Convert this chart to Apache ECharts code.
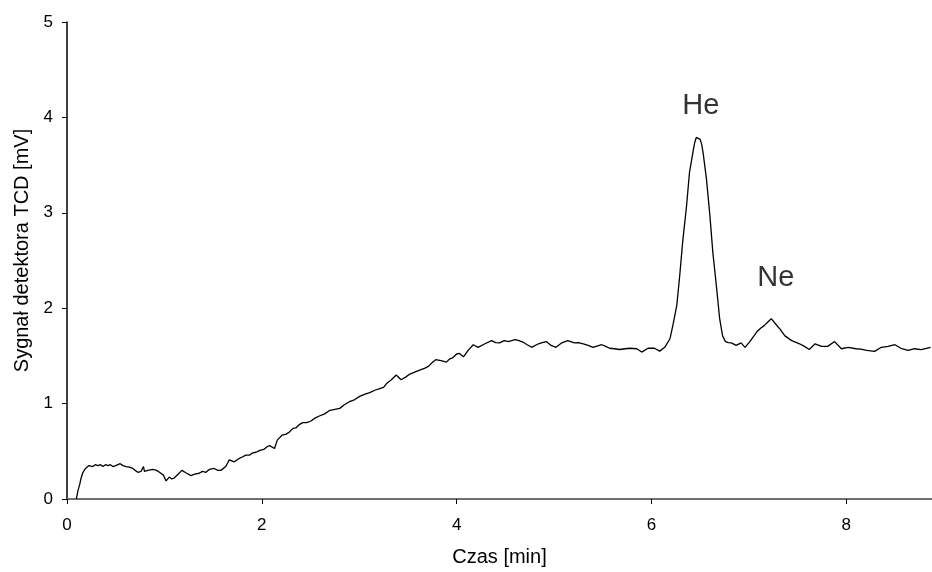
<!DOCTYPE html>
<html><head><meta charset="utf-8">
<script src="https://cdn.jsdelivr.net/npm/echarts@6/dist/echarts.min.js"></script>
<style>html,body{margin:0;padding:0;background:#fff}#c{width:932px;height:572px}</style>
</head><body><div id="c"></div>
<script>
const timeMin = [0.096,0.113,0.13,0.145,0.164,0.19,0.225,0.266,0.29,0.317,0.345,0.369,0.395,0.42,0.445,0.47,0.50,0.546,0.575,0.607,0.64,0.676,0.70,0.727,0.761,0.785,0.795,0.83,0.88,0.92,0.949,0.99,1.017,1.05,1.075,1.10,1.14,1.18,1.22,1.273,1.31,1.358,1.39,1.427,1.46,1.51,1.55,1.58,1.63,1.666,1.717,1.768,1.80,1.836,1.876,1.90,1.94,1.98,2.02,2.058,2.08,2.13,2.16,2.21,2.25,2.28,2.32,2.35,2.385,2.42,2.46,2.50,2.55,2.59,2.64,2.70,2.75,2.80,2.85,2.90,2.95,3.005,3.06,3.108,3.16,3.21,3.25,3.28,3.33,3.38,3.43,3.48,3.52,3.57,3.62,3.67,3.71,3.75,3.785,3.84,3.895,3.93,3.96,4.00,4.03,4.07,4.12,4.17,4.22,4.29,4.36,4.40,4.44,4.49,4.53,4.60,4.64,4.68,4.72,4.77,4.84,4.88,4.92,4.97,5.02,5.08,5.14,5.21,5.25,5.30,5.35,5.40,5.49,5.53,5.57,5.62,5.67,5.73,5.78,5.85,5.90,5.965,6.03,6.085,6.136,6.19,6.22,6.26,6.29,6.32,6.36,6.39,6.43,6.445,6.46,6.48,6.50,6.515,6.53,6.565,6.60,6.63,6.67,6.70,6.73,6.76,6.79,6.82,6.87,6.92,6.96,7.01,7.08,7.12,7.16,7.20,7.23,7.27,7.32,7.37,7.44,7.52,7.57,7.62,7.68,7.745,7.81,7.88,7.95,8.02,8.10,8.15,8.21,8.29,8.36,8.43,8.50,8.57,8.635,8.70,8.77,8.865];
const signal = [0,0.09,0.15,0.22,0.28,0.32,0.35,0.34,0.36,0.35,0.36,0.34,0.36,0.35,0.36,0.34,0.35,0.37,0.35,0.34,0.335,0.32,0.30,0.28,0.29,0.34,0.29,0.30,0.31,0.30,0.28,0.25,0.19,0.23,0.21,0.22,0.26,0.30,0.275,0.245,0.26,0.27,0.29,0.28,0.31,0.32,0.30,0.30,0.34,0.41,0.39,0.425,0.44,0.46,0.46,0.48,0.49,0.51,0.52,0.55,0.56,0.53,0.62,0.67,0.68,0.70,0.74,0.745,0.78,0.80,0.80,0.815,0.85,0.87,0.89,0.93,0.94,0.95,0.99,1.02,1.04,1.076,1.10,1.115,1.14,1.157,1.17,1.21,1.25,1.30,1.25,1.28,1.31,1.33,1.35,1.37,1.39,1.43,1.46,1.45,1.435,1.47,1.48,1.52,1.526,1.49,1.56,1.617,1.59,1.627,1.66,1.64,1.637,1.66,1.65,1.67,1.66,1.645,1.62,1.59,1.627,1.64,1.65,1.61,1.59,1.637,1.66,1.637,1.64,1.627,1.61,1.59,1.617,1.60,1.58,1.575,1.567,1.575,1.58,1.575,1.54,1.58,1.58,1.55,1.59,1.68,1.82,2.03,2.34,2.69,3.07,3.42,3.66,3.74,3.79,3.80,3.77,3.72,3.63,3.35,2.97,2.585,2.20,1.89,1.71,1.65,1.64,1.637,1.61,1.637,1.59,1.65,1.75,1.79,1.82,1.86,1.89,1.84,1.78,1.71,1.66,1.627,1.60,1.567,1.627,1.60,1.60,1.65,1.575,1.59,1.575,1.57,1.557,1.547,1.59,1.60,1.617,1.575,1.557,1.575,1.565,1.59];
const xTicks = [0,2,4,6,8];
const yTicks = [0,1,2,3,4,5];
const peakNames = ['He','Ne'];
const peakLabelX = [6.506,7.276];
const peakLabelY = [4.12,2.317];

const font = '"Liberation Sans", Arial, sans-serif';
const chart = echarts.init(document.getElementById('c'), null, {renderer:'canvas'});
chart.setOption({
  animation:false,
  grid:{left:67,right:0,top:22,bottom:71,containLabel:false},
  xAxis:[{
    type:'value',min:0,max:8.88,interval:2,
    name:'Czas [min]',nameLocation:'middle',nameGap:48,
    nameTextStyle:{fontFamily:font,fontSize:20,color:'#000'},
    axisLine:{show:true,onZero:false,lineStyle:{color:'#000',width:1.5}},
    axisTick:{show:true,inside:false,length:5,lineStyle:{color:'#000'},customValues:xTicks},
    axisLabel:{fontFamily:font,fontSize:17,color:'#000',margin:18,customValues:xTicks},
    splitLine:{show:false}
  },{
    type:'value',min:0,max:8.88,position:'top',
    axisLine:{show:true,lineStyle:{color:'#808080',width:1.5}},
    axisTick:{show:false},axisLabel:{show:false},splitLine:{show:false}
  }],
  yAxis:{
    type:'value',min:0,max:5,interval:1,
    name:'Sygnał detektora TCD [mV]',nameLocation:'middle',nameGap:34,nameRotate:90,
    nameTextStyle:{fontFamily:font,fontSize:20,color:'#000',padding:[0,0,0,20]},
    axisLine:{show:true,lineStyle:{color:'#000',width:1.5}},
    axisTick:{show:true,inside:false,length:5,lineStyle:{color:'#000'},customValues:yTicks},
    axisLabel:{fontFamily:font,fontSize:17,color:'#000',margin:14,customValues:yTicks},
    splitLine:{show:false}
  },
  series:[{
    type:'line',
    data:timeMin.map((t,i)=>[t,signal[i]]),
    showSymbol:false,symbol:'none',
    lineStyle:{color:'#000',width:1.3},
    clip:true
  },{
    type:'scatter',
    data:peakNames.map((n,i)=>({name:n,value:[peakLabelX[i],peakLabelY[i]]})),
    symbolSize:0,
    label:{show:true,position:'inside',formatter:'{b}',fontFamily:font,fontSize:29,color:'#000'}
  }]
});
</script>
</body></html>
